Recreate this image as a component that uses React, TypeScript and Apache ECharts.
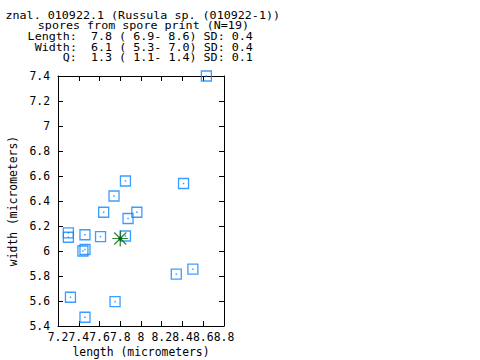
import React, { useEffect, useRef } from "react";
import * as echarts from "echarts";

const lengths = [8.63, 7.85, 7.74, 8.41, 7.64, 7.96, 7.875, 7.3, 7.3, 7.46, 7.61, 7.85, 7.44, 7.46, 8.34, 8.5, 7.32, 7.75, 7.46];
const widths = [7.4, 6.56, 6.44, 6.54, 6.31, 6.31, 6.26, 6.145, 6.11, 6.13, 6.115, 6.12, 6.0, 6.012, 5.815, 5.855, 5.63, 5.595, 5.47];
const meanPoint = [7.8, 6.1];
const titleLines = [
  "znal. 010922.1 (Russula sp. (010922-1))",
  "spores from spore print (N=19)",
  "Length:  7.8 ( 6.9- 8.6) SD: 0.4",
  "Width:  6.1 ( 5.3- 7.0) SD: 0.4",
  "Q:  1.3 ( 1.1- 1.4) SD: 0.1",
];
const xLabelName = "length (micrometers)";
const yLabelName = "width (micrometers)";

const FONT = "DejaVu Sans Mono";
const FS = 11.4;
const TFS = 10;
const BLUE = "#0a84ff";
const GREEN = "#006400";

const titleX = [5.5, 37.8, 27.6, 34.7, 62.8];
const titleY = [15.3, 26, 36.7, 47.3, 57.8];

const fmt = (v: number) => String(+(+v).toFixed(1));

export default function App() {
  const ref = useRef<HTMLDivElement>(null);
  useEffect(() => {
    const chart = echarts.init(ref.current!, null, { renderer: "svg" });
    const pts = lengths.map((l, i) => [l, widths[i]]);
    const axisCommon = {
      type: "value" as const,
      axisLine: { show: true, onZero: false, lineStyle: { color: "#000", width: 1 } },
      axisTick: { show: true, inside: true, length: 5, lineStyle: { color: "#000", width: 1 } },
      splitLine: { show: false },
    };
    chart.setOption({
      animation: false,
      backgroundColor: "#fff",
      grid: { left: 58, right: 256, top: 76, bottom: 34, containLabel: false, outerBoundsMode: "none" },
      graphic: titleLines.map((t, i) => ({
        type: "text",
        x: titleX[i],
        y: titleY[i],
        scaleX: 1.17,
        style: {
          text: t,
          fill: "#000",
          font: `${TFS}px '${FONT}'`,
          verticalAlign: "middle",
          align: "left",
        },
      })),
      xAxis: [
        {
          ...axisCommon,
          min: 7.2,
          max: 8.8,
          interval: 0.2,
          position: "bottom",
          axisLabel: {
            formatter: fmt,
            fontFamily: FONT,
            fontSize: FS,
            color: "#000",
            margin: 5,
            showMinLabel: true,
            showMaxLabel: true,
            hideOverlap: false,
          },
          name: xLabelName,
          nameLocation: "middle",
          nameGap: 20,
          nameTextStyle: { fontFamily: FONT, fontSize: FS, color: "#000" },
        },
        {
          ...axisCommon,
          min: 7.2,
          max: 8.8,
          interval: 0.2,
          position: "top",
          axisLabel: { show: false },
        },
      ],
      yAxis: [
        {
          ...axisCommon,
          min: 5.4,
          max: 7.4,
          interval: 0.2,
          position: "left",
          axisLabel: {
            formatter: fmt,
            fontFamily: FONT,
            fontSize: FS,
            color: "#000",
            margin: 8,
            showMinLabel: true,
            showMaxLabel: true,
          },
          name: yLabelName,
          nameLocation: "middle",
          nameGap: 40,
          nameTextStyle: { fontFamily: FONT, fontSize: FS, color: "#000" },
        },
        {
          ...axisCommon,
          min: 5.4,
          max: 7.4,
          interval: 0.2,
          position: "right",
          axisLabel: { show: false },
        },
      ],
      series: [
        {
          type: "scatter",
          data: pts,
          symbol: "rect",
          symbolSize: 10,
          itemStyle: { color: "rgba(0,0,0,0)", borderColor: BLUE, borderWidth: 1.3 },
          emphasis: { disabled: true },
        },
        {
          type: "scatter",
          data: pts,
          symbol: "rect",
          symbolSize: 1.5,
          itemStyle: { color: BLUE },
          emphasis: { disabled: true },
        },
        {
          type: "scatter",
          data: [meanPoint],
          symbol: "path://M0,8L16,8M8,0L8,16M2,2L14,14M14,2L2,14",
          symbolSize: 16,
          itemStyle: { color: "none", borderColor: GREEN, borderWidth: 1.2 },
          emphasis: { disabled: true },
        },
        {
          type: "scatter",
          data: [meanPoint],
          symbol: "circle",
          symbolSize: 4,
          itemStyle: { color: GREEN },
          emphasis: { disabled: true },
        },
      ],
    });
    return () => chart.dispose();
  }, []);
  return <div ref={ref} style={{ position: "fixed", left: 0, top: 0, width: 480, height: 360 }} />;
}
